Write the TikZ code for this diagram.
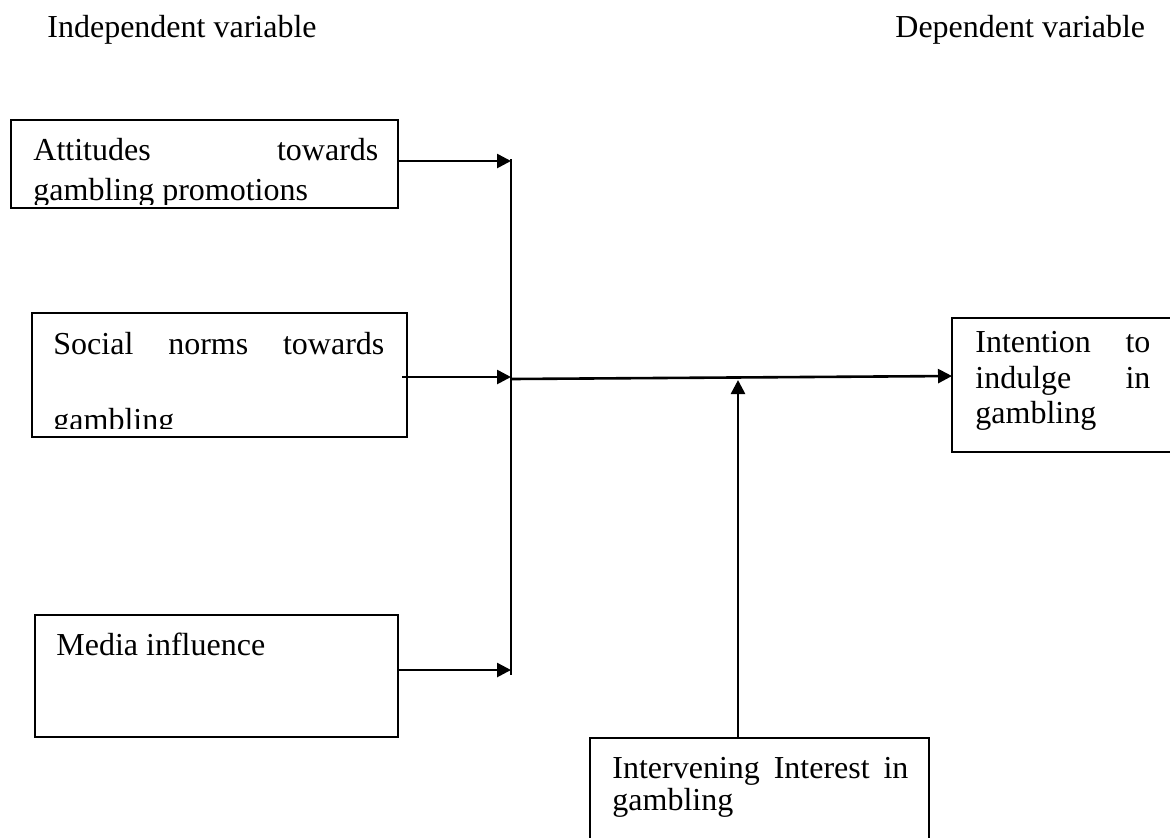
\documentclass[tikz,border=0pt]{standalone}
\usepackage{fontspec}
\setmainfont{Liberation Serif}
\usetikzlibrary{arrows.meta}
\tikzset{
  boxnode/.style={draw, line width=1.4pt, anchor=north west, inner sep=0pt, outer sep=0pt},
  txt/.style={anchor=base west, inner sep=0pt, font=\fontsize{16}{19}\selectfont},
  conn/.style={line width=1.3pt},
  arr/.style={line width=1.3pt, -{Triangle[length=7pt,width=7pt]}},
}
\begin{document}
\begin{tikzpicture}[x=0.5pt,y=-0.5pt]
\useasboundingbox (0,0) rectangle (1170,837);
\clip (0,0) rectangle (1170,837);
\fill[white] (0,0) rectangle (1170,837);

% headers
\node[txt] (h1) at (47,37) {Independent variable};
\node[txt] (h2) at (895,37) {Dependent variable};

% boxes
\node[boxnode, minimum width=193.5pt, minimum height=44pt] (b1) at (11,120) {};
\node[boxnode, minimum width=187.5pt, minimum height=62pt] (b2) at (32,313) {};
\node[boxnode, minimum width=181.5pt, minimum height=61pt] (b3) at (35,615) {};
\node[boxnode, minimum width=111.5pt, minimum height=67pt] (r) at (952,318) {};
\node[boxnode, minimum width=169.5pt, minimum height=56pt] (iv) at (590,738) {};

% box texts
\begin{scope}
\clip (11,120) rectangle (398,204);
\node[txt] (t1a) at (33,160) {\hbox to 172.5pt{Attitudes\hfill towards}};
\node[txt] (t1b) at (33,200) {gambling promotions};
\end{scope}
\begin{scope}
\clip (32,313) rectangle (407,428);
\node[txt] (t2a) at (53,354) {\hbox to 165.5pt{Social\hfill norms\hfill towards}};
\node[txt] (t2b) at (53,430) {gambling};
\end{scope}
\node[txt] (t3) at (56,655) {Media influence};
\node[txt] (tra) at (975,352) {\hbox to 87.5pt{Intention\hfill to}};
\node[txt] (trb) at (975,388) {\hbox to 87.5pt{indulge\hfill in}};
\node[txt] (trc) at (975,423) {gambling};
\node[txt] (tia) at (612,778) {\hbox to 148pt{Intervening\hfill Interest\hfill in}};
\node[txt] (tib) at (612,810) {gambling};

% junction coordinates
\coordinate (j1) at (511,161);
\coordinate (j2) at (511,377);
\coordinate (j2s) at (511,379);
\coordinate (j3) at (511,670);
\coordinate (jt) at (511,159);
\coordinate (jb) at (511,675);
\coordinate (re) at (952,376);
\coordinate (m) at (738,377);

% connectors
\draw[conn] (jt) -- (jb);
\draw[arr] (b1.east |- j1) -- (j1);
\draw[arr] ([xshift=-2.5pt]b2.east |- j2) -- (j2);
\draw[arr] (b3.east |- j3) -- (j3);
\draw[arr] (j2s) -- (r.west |- re);
\draw[arr] (m |- iv.north) -- ([yshift=-1.5pt]m);
\end{tikzpicture}
\end{document}
